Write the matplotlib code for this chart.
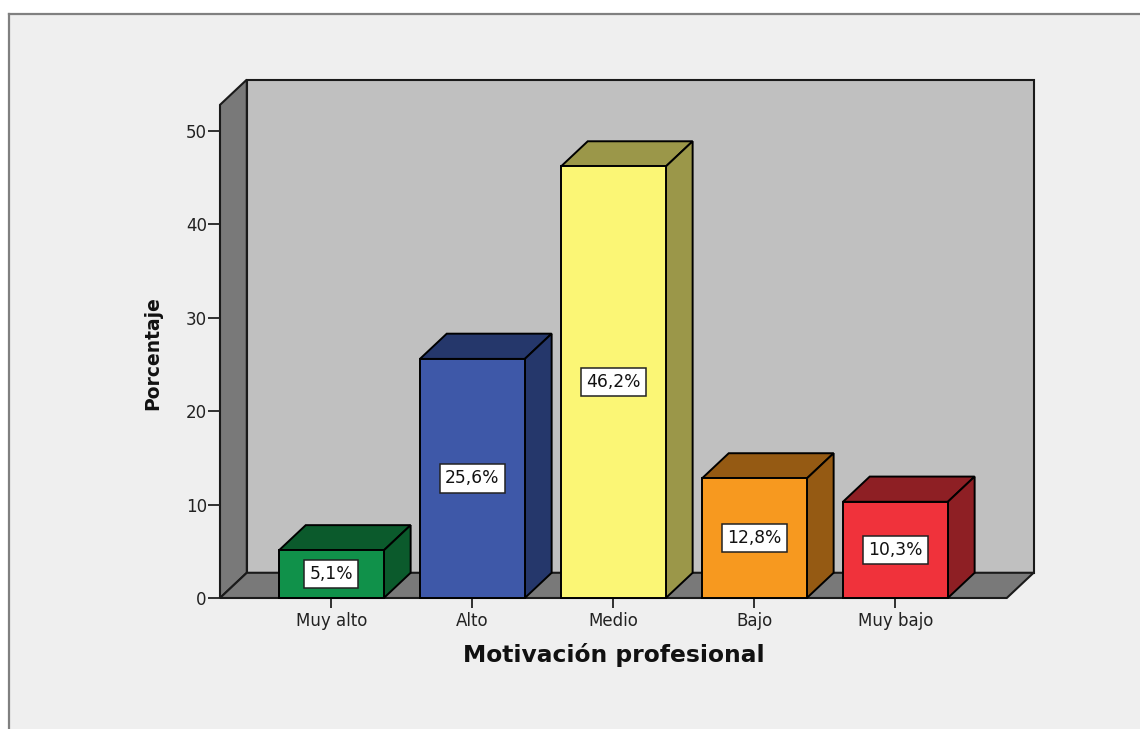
import numpy as np
import matplotlib.pyplot as plt
from matplotlib.patches import Polygon, Rectangle
from matplotlib.lines import Line2D
import matplotlib.transforms as mtransforms

# motivation levels and share of respondents (%)
categories = ['Muy alto', 'Alto', 'Medio', 'Bajo', 'Muy bajo']
values = [5.1, 25.6, 46.2, 12.8, 10.3]
front_colors = ['#10914a', '#3e58a8', '#fbf675', '#f7991f', '#f0323b']
shade_colors = ['#0b5a2c', '#25376b', '#9b9749', '#955a13', '#8e1f24']
yticks = [0, 10, 20, 30, 40, 50]

# 3d look: depth offset in data units, half width of a bar
dx, dy = 0.19, 2.7
half = 0.372
xlo = -0.79
xhi = len(categories) - 1 + 0.79 + dx
ytop = 52.8

fig = plt.figure(figsize=(11.4, 7.29), dpi=100, facecolor='white')

# grey panel with a frame on top and left
fig.patches.append(Rectangle((9 / 1140, 0), 1, 715 / 729, transform=fig.transFigure,
                             facecolor='#efefef', edgecolor='none', zorder=-10))
fig.lines.append(Line2D([9 / 1140, 1], [715 / 729, 715 / 729], transform=fig.transFigure,
                        color='#808080', lw=1.6))
fig.lines.append(Line2D([9 / 1140, 9 / 1140], [0, 715 / 729], transform=fig.transFigure,
                        color='#808080', lw=1.6))

px_per_x = 141
ax_w = (xhi - xlo) * px_per_x / 1140
ax_h = (ytop + dy) * 9.34 / 729
ax = fig.add_axes([220 / 1140, (729 - 598) / 729, ax_w, ax_h])
ax.set_xlim(xlo, xhi)
ax.set_ylim(0, ytop + dy)
ax.patch.set_visible(False)
for s in ax.spines.values():
    s.set_visible(False)

edge = '#1a1a1a'
xr = len(categories) - 1 + 0.79
# back wall, left wall, floor
walls = [
    ([(xlo + dx, dy), (xhi, dy), (xhi, ytop + dy), (xlo + dx, ytop + dy)], '#c0c0c0'),
    ([(xlo, 0), (xlo + dx, dy), (xlo + dx, ytop + dy), (xlo, ytop)], '#797979'),
    ([(xlo, 0), (xr, 0), (xhi, dy), (xlo + dx, dy)], '#797979'),
]
for pts, c in walls:
    ax.add_patch(Polygon(pts, closed=True, facecolor=c, edgecolor=edge, lw=1.5,
                         clip_on=False, zorder=1))

for i, (v, fc, sc) in enumerate(zip(values, front_colors, shade_colors)):
    l, r = i - half, i + half
    top = [(l, v), (r, v), (r + dx, v + dy), (l + dx, v + dy)]
    side = [(r, 0), (r + dx, dy), (r + dx, v + dy), (r, v)]
    front = [(l, 0), (r, 0), (r, v), (l, v)]
    for pts, c in [(top, sc), (side, sc), (front, fc)]:
        ax.add_patch(Polygon(pts, closed=True, facecolor=c, edgecolor='black', lw=1.4,
                             joinstyle='miter', clip_on=False, zorder=3))
    lab = f'{v:.1f}'.replace('.', ',') + '%'
    ax.text(i, v / 2, lab, ha='center', va='center', fontsize=12.3, color='#111111', zorder=5,
            bbox=dict(boxstyle='square,pad=0.3', facecolor='white', edgecolor='#222222', lw=1.1))

ax.set_xticks(range(len(categories)))
ax.set_xticklabels(categories)
ax.set_yticks(yticks)
ax.tick_params(axis='y', direction='out', length=8.5, width=1.3, pad=1, labelsize=12,
               colors='#222222')
ax.tick_params(axis='x', direction='out', length=7, width=1.3, pad=3, labelsize=12,
               colors='#222222')

trans = mtransforms.blended_transform_factory(ax.transData, ax.transAxes)
ax.text(2, -(655 - 598) / 518, 'Motivación profesional', transform=trans, ha='center',
        va='center', fontsize=16.8, fontweight='bold', color='#111111')
ax.text(-(220 - 153) / 814, (598 - 353) / 518, 'Porcentaje', transform=ax.transAxes,
        rotation=90, ha='center', va='center', fontsize=13.5, fontweight='bold', color='#111111')

fig.savefig('out.png', dpi=100, facecolor=fig.get_facecolor())
